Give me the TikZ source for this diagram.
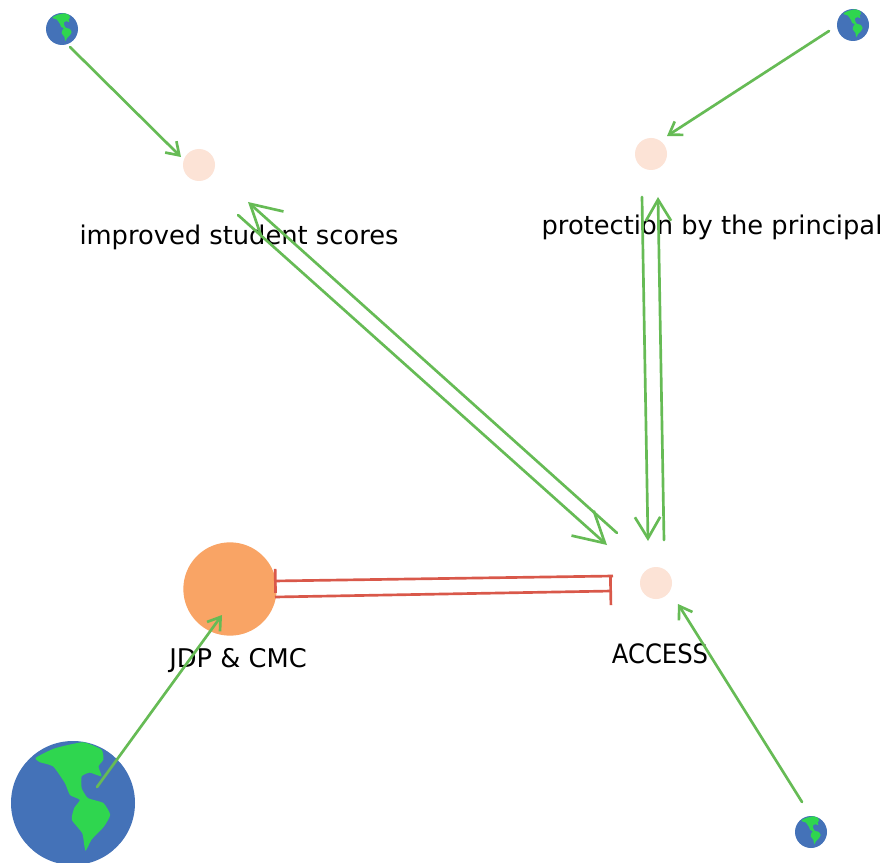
\documentclass[tikz,border=0pt]{standalone}
\usepackage{fontspec}
\setmainfont{DejaVu Sans}
\usetikzlibrary{arrows.meta}
\definecolor{linkgreen}{HTML}{66BB55}
\definecolor{linkred}{HTML}{D9584A}
\definecolor{jdporange}{HTML}{F9A465}
\definecolor{palepeach}{HTML}{FCE3D6}
\definecolor{oceanblue}{HTML}{4472B8}
\definecolor{landgreen}{HTML}{2FD64F}
\newcommand{\landmass}[1]{%
  \fill[landgreen,x=#1pt,y=-#1pt]
    plot[smooth cycle,tension=0.3] coordinates {
    (-.6,-.73) (-.3,-.88) (.16,-.98) (.46,-.86) (.49,-.7) (.41,-.59) (.46,-.43)
    (.27,-.49) (.14,-.43) (.14,-.24) (.24,-.08) (.49,0) (.6,.19) (.5,.38)
    (.3,.59) (.2,.77) (.15,.49) (-.02,.27) (.02,.08) (.11,-.05) (-.05,-.13)
    (-.13,-.32) (-.32,-.59) (-.54,-.66)};
}
\tikzset{
  every node/.style={inner sep=0pt,outer sep=0pt},
  peach/.style={circle,fill=palepeach,minimum size=24pt},
  jdp/.style={circle,fill=jdporange,minimum size=70pt},
  globe/.style={circle,fill=oceanblue,minimum size=#1*2pt,
    path picture={\begin{scope}[shift={(path picture bounding box.center)}]\landmass{#1}\end{scope}}},
  label text/.style={font=\fontsize{19.3pt}{23pt}\selectfont,text=black},
  act/.style={draw=linkgreen,line width=2pt,line cap=round},
  small head/.style={-{Straight Barb[length=9pt,width=12pt]}},
  mid head/.style={-{Straight Barb[length=16pt,width=19pt]}},
  big head/.style={-{Straight Barb[length=22.5pt,width=25pt]}},
  inhibit/.style={draw=linkred,line width=2pt},
}
\begin{document}
\begin{tikzpicture}[x=.75pt,y=-.75pt]
\useasboundingbox[fill=white] (0,0) rectangle (886,863);
\node[peach] (improved) at (199,165) {};
\node[peach] (protection) at (651,154) {};
\node[peach] (access) at (656,583) {};
\node[jdp] (jdpcmc) at (230,589) {};
\node[globe=12] (g1) at (62,29) {};
\node[globe=12] (g2) at (853,25) {};
\node[globe=12] (g3) at (811,832) {};
\node[globe=46.5] (g4) at (73,803) {};
\node[label text] (t1) at (239,237) {improved student scores};
\node[label text] (t2) at (712,227) {protection by the principal};
\node[label text] (t3) at (238,661) {JDP \& CMC};
\node[label text,font=\fontsize{20pt}{24pt}\selectfont] (t4) at (660,654) {\scalebox{.91}[1]{ACCESS}};
% connector ports, placed relative to their nodes
\coordinate (g1out) at ([shift={(8,18)}]g1.center);
\coordinate (impin) at ([shift={(-18,-8)}]improved.center);
\coordinate (g2out) at ([shift={(-24,6)}]g2.center);
\coordinate (proin) at ([shift={(16,-18)}]protection.center);
\coordinate (g3out) at ([shift={(-9,-30)}]g3.center);
\coordinate (accin) at ([shift={(22,21)}]access.center);
\coordinate (g4out) at ([shift={(24,-16)}]g4.center);
\coordinate (jdpin) at ([shift={(-8,26)}]jdpcmc.center);
\coordinate (impA) at ([shift={(39,50)}]improved.center);
\coordinate (accA) at ([shift={(-49,-38)}]access.center);
\coordinate (accB) at ([shift={(-39,-50)}]access.center);
\coordinate (impB) at ([shift={(49,37)}]improved.center);
\coordinate (proC) at ([shift={(-9,43)}]protection.center);
\coordinate (accC) at ([shift={(-8,-42)}]access.center);
\coordinate (accD) at ([shift={(8,-43)}]access.center);
\coordinate (proD) at ([shift={(7,43)}]protection.center);
\coordinate (accE) at ([shift={(-43,-7)}]access.center);
\coordinate (jdpE) at ([shift={(44,-8)}]jdpcmc.center);
\coordinate (jdpF) at ([shift={(45,8)}]jdpcmc.center);
\coordinate (accF) at ([shift={(-44,8)}]access.center);
\draw[act,small head] (g1out) -- (impin);
\draw[act,small head] (g2out) -- (proin);
\draw[act,small head] (g3out) -- (accin);
\draw[act,small head] (g4out) -- (jdpin);
\draw[act,big head] (impA) -- (accA);
\draw[act,big head] (accB) -- (impB);
\draw[act,mid head] (proC) -- (accC);
\draw[act,mid head] (accD) -- (proD);
\draw[inhibit,-{Bar[width=18pt]}] (accE) -- (jdpE);
\draw[inhibit,-{Bar[width=21pt]}] (jdpF) -- (accF);
\end{tikzpicture}
\end{document}
